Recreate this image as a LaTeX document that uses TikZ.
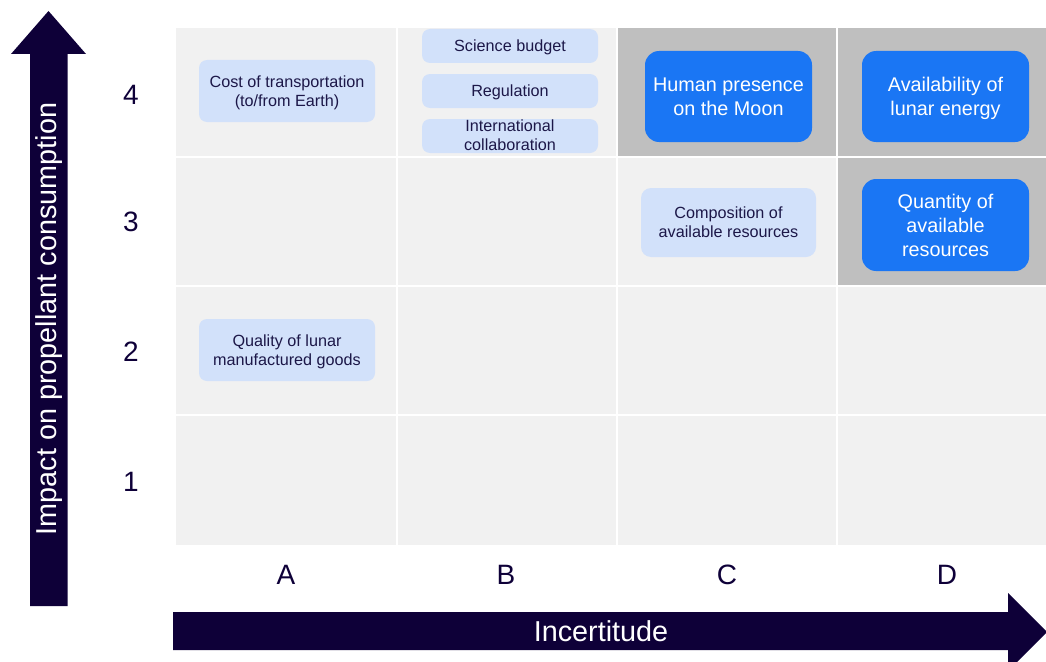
\documentclass[tikz,border=0pt]{standalone}
\usepackage{fontspec}
\setmainfont{Liberation Sans}
\definecolor{navy}{HTML}{0E0038}
\definecolor{cellbg}{HTML}{F1F1F1}
\definecolor{hlgray}{HTML}{BFBFBF}
\definecolor{lightbox}{HTML}{D2E1FA}
\definecolor{bluebox}{HTML}{1A76F4}
\definecolor{boxtext}{HTML}{1C1748}
\tikzset{
  cell/.style={fill=cellbg},
  hot/.style={fill=hlgray},
  lightcard/.style={fill=lightbox, rounded corners=8pt, inner sep=0pt, align=center,
    text=boxtext, font=\fontsize{16.2}{19}\selectfont, text depth=0pt},
  bluecard/.style={fill=bluebox, rounded corners=14pt, inner sep=0pt, align=center,
    text=white, font=\fontsize{19.8}{24}\selectfont, minimum width=167pt, text depth=0pt},
  axislabel/.style={text=navy, font=\fontsize{28}{32}\selectfont},
  bigarrow/.style={fill=navy},
}
\begin{document}
\begin{tikzpicture}[x=1pt,y=-1pt]
\useasboundingbox (0,0) rectangle (1046,661);
% grid cells
\foreach \xa/\xb in {176/396,398/616,618/836,838/1046}{
  \foreach \ya/\yb in {28/156,158/285,287/414,416/545}{
    \fill[cell] (\xa,\ya) rectangle (\xb,\yb);
  }
}
\fill[hot] (618,28) rectangle (836,156);
\fill[hot] (838,28) rectangle (1046,156);
\fill[hot] (838,158) rectangle (1046,285);
% arrows
\fill[bigarrow] (30,606) -- (30,54) -- (11,54) -- (48.5,11) -- (86,54) -- (67.7,54) -- (67.7,606) -- cycle;
\fill[bigarrow] (173,612) -- (1008,612) -- (1008,593) -- (1047,632) -- (1008,671) -- (1008,650) -- (173,650) -- cycle;
\node[rotate=90, text=white, font=\fontsize{28.8}{32}\selectfont] (ylab) at (49,319) {Impact on propellant consumption};
\node[text=white, font=\fontsize{28.8}{32}\selectfont] (xlab) at (601,631) {Incertitude};
% axis ticks
\node[axislabel] (r4) at (131,95) {4};
\node[axislabel] (r3) at (131,222) {3};
\node[axislabel] (r2) at (131,352) {2};
\node[axislabel] (r1) at (131,482) {1};
\node[axislabel] (cA) at (286,575) {A};
\node[axislabel] (cB) at (506,575) {B};
\node[axislabel] (cC) at (727,575) {C};
\node[axislabel] (cD) at (947,575) {D};
% cards
\node[lightcard, minimum width=176pt, minimum height=62pt] (cost) at (287,91) {Cost of transportation\\(to/from Earth)};
\node[lightcard, minimum width=176pt, minimum height=34pt] (sci) at (510,46) {Science budget};
\node[lightcard, minimum width=176pt, minimum height=34pt] (reg) at (510,91) {Regulation};
\node[lightcard, minimum width=176pt, minimum height=34pt] (intl) at (510,136) {};
\node[text=boxtext, align=center, font=\fontsize{16.2}{19}\selectfont, inner sep=0pt] (intltext) at (510,135.5) {International\\collaboration};
\node[bluecard, minimum height=91pt] (human) at (728.5,96.5) {Human presence\\on the Moon};
\node[bluecard, minimum height=91pt] (avail) at (945.5,96.5) {Availability of\\lunar energy};
\node[lightcard, rounded corners=10pt, minimum width=175pt, minimum height=69pt] (comp) at (728.5,222.5) {Composition of\\available resources};
\node[bluecard, minimum height=92pt] (quant) at (945.5,225) {Quantity of\\available\\resources};
\node[lightcard, minimum width=176pt, minimum height=62pt] (qual) at (287,350) {Quality of lunar\\manufactured goods};
\end{tikzpicture}
\end{document}
